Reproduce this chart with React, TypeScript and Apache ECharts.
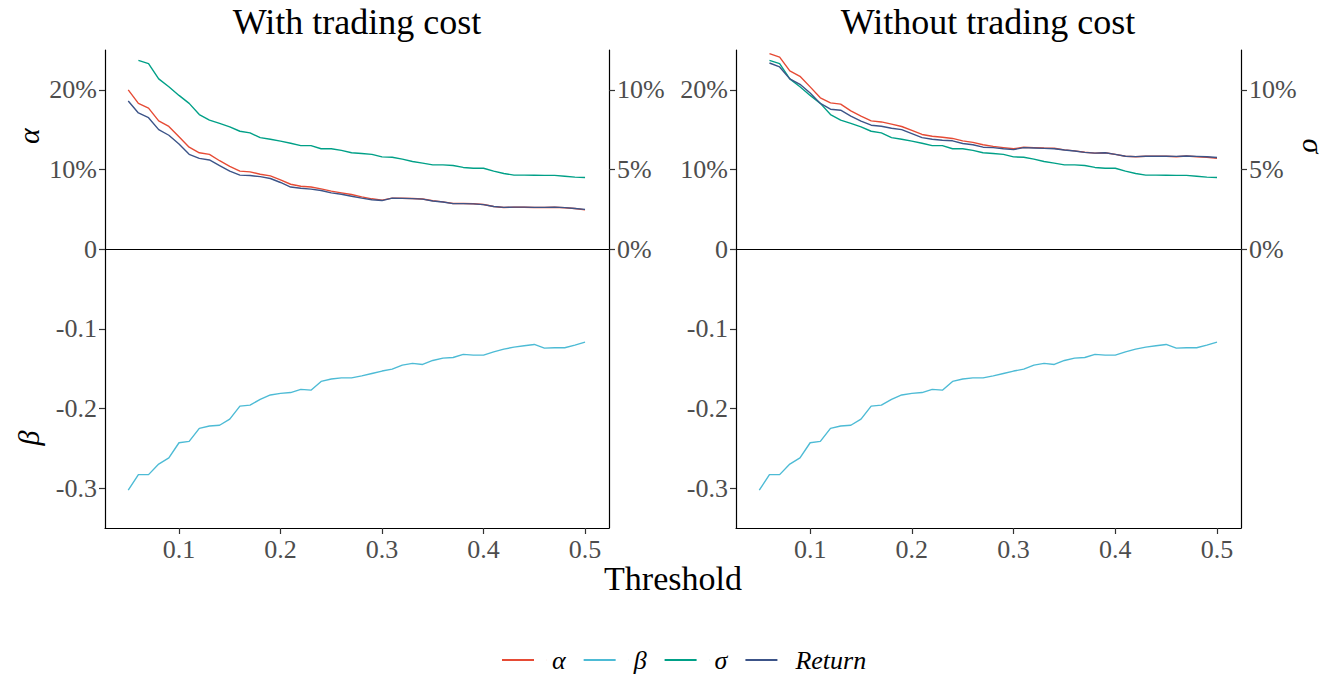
import { useEffect, useRef } from 'react';
import * as echarts from 'echarts';

const thresholds = [
  0.05, 0.06, 0.07, 0.08, 0.09, 0.1, 0.11, 0.12, 0.13, 0.14, 0.15, 0.16, 0.17, 0.18, 0.19, 0.2,
  0.21, 0.22, 0.23, 0.24, 0.25, 0.26, 0.27, 0.28, 0.29, 0.3, 0.31, 0.32, 0.33, 0.34, 0.35, 0.36,
  0.37, 0.38, 0.39, 0.4, 0.41, 0.42, 0.43, 0.44, 0.45, 0.46, 0.47, 0.48, 0.49, 0.5,
];

// With trading cost
const alphaCost = [
  0.2, 0.183, 0.177, 0.161, 0.154, 0.141, 0.128, 0.121, 0.119, 0.111, 0.104, 0.098, 0.097, 0.094,
  0.092, 0.087, 0.0815, 0.079, 0.078, 0.0757, 0.0728, 0.0707, 0.0686,
  0.0657, 0.0632, 0.0615, 0.064, 0.064, 0.0636, 0.063, 0.0607, 0.0594, 0.0573, 0.0573, 0.057,
  0.056, 0.0535, 0.0523, 0.0527, 0.0527, 0.0523, 0.0523, 0.0527, 0.052, 0.051, 0.0493,
];
const returnCost = [
  0.186, 0.171, 0.165, 0.15, 0.143, 0.132, 0.119, 0.114, 0.112, 0.105, 0.098, 0.093, 0.0925, 0.091,
  0.0887, 0.0837, 0.078, 0.0765, 0.0753, 0.0736, 0.0707, 0.069, 0.0665,
  0.064, 0.062, 0.061, 0.064, 0.0638, 0.0634, 0.0628, 0.0605, 0.0592, 0.0572, 0.0572, 0.0569,
  0.0559, 0.0535, 0.0524, 0.0528, 0.0528, 0.0525, 0.0524, 0.0528, 0.0521, 0.0511, 0.05,
];

// Without trading cost
const alphaNoCost = [
  null, 0.2455, 0.241, 0.2237, 0.217, 0.2037, 0.19, 0.1836, 0.182, 0.1735, 0.167, 0.161, 0.1597,
  0.157, 0.154, 0.149, 0.144, 0.1418, 0.1405, 0.139, 0.136, 0.134, 0.131,
  0.129, 0.1275, 0.126, 0.128, 0.1275, 0.127, 0.1267, 0.1246, 0.1234, 0.1217, 0.1205, 0.121,
  0.119, 0.1167, 0.116, 0.1167, 0.1167, 0.1167, 0.116, 0.117, 0.116, 0.1154, 0.1142,
];
const returnNoCost = [
  null, 0.2337, 0.2287, 0.2137, 0.207, 0.196, 0.183, 0.1757, 0.1744, 0.167, 0.1606, 0.1556, 0.1543,
  0.1518, 0.15, 0.145, 0.14, 0.138, 0.1368, 0.136, 0.1326, 0.131, 0.128,
  0.1275, 0.126, 0.125, 0.1275, 0.127, 0.1265, 0.126, 0.1245, 0.1232, 0.1215, 0.1205, 0.121,
  0.119, 0.1167, 0.1162, 0.1167, 0.1167, 0.1167, 0.1165, 0.117, 0.1165, 0.116, 0.115,
];

// Shared by both panels
const sigma = [
  null, 0.1185, 0.1165, 0.1069, 0.1019, 0.0965, 0.0915, 0.0845, 0.081, 0.0789, 0.0768, 0.074,
  0.073, 0.07, 0.069, 0.0678, 0.0665, 0.065, 0.065, 0.063, 0.063, 0.062, 0.0605,
  0.06, 0.0595, 0.0579, 0.0577, 0.0565, 0.055, 0.054, 0.0529, 0.0529, 0.0525, 0.0513, 0.0508,
  0.0508, 0.049, 0.0475, 0.0465, 0.0465, 0.0464, 0.0463, 0.0463, 0.0458, 0.0452, 0.045,
];
const beta = [
  -0.3024, -0.283, -0.283, -0.2698, -0.262, -0.243, -0.2413, -0.225, -0.222, -0.221, -0.2133,
  -0.197, -0.1957, -0.1886, -0.183, -0.181, -0.18, -0.176, -0.177, -0.166, -0.163, -0.1615, -0.1615,
  -0.159, -0.156, -0.153, -0.1506, -0.1455, -0.1434, -0.1447, -0.1397, -0.1368, -0.136, -0.132,
  -0.133, -0.133, -0.129, -0.1255, -0.123, -0.1213, -0.1196, -0.1242, -0.1238, -0.1238, -0.1205,
  -0.1167,
];

const panelTitles = ['With trading cost', 'Without trading cost'];
const legendNames = ['α', 'β', 'σ', 'Return'];
const colors = { alpha: '#E64B35', beta: '#4DBBD5', sigma: '#00A087', ret: '#3C5488' };
const xTicks = [0.1, 0.2, 0.3, 0.4, 0.5];
const leftTicks = [-0.3, -0.2, -0.1, 0, 0.1, 0.2];
const rightTicks = [0, 0.05, 0.1];

const FONT = '"Liberation Serif", "DejaVu Serif", serif';

const pairs = (vals: (number | null)[]) =>
  thresholds.map((t, i) => [t, vals[i]]).filter((p) => p[1] !== null);

export default function App() {
  const ref = useRef<HTMLDivElement>(null);
  useEffect(() => {
    if (!ref.current) return;
    const chart = echarts.init(ref.current, null, { renderer: 'svg' });

    const grids = [
      { left: 105, top: 50, width: 504, height: 478 },
      { left: 736, top: 50, width: 505, height: 478 },
    ];

    const xAxes = grids.map((_, g) => ({
      type: 'value',
      gridIndex: g,
      min: 0.0271,
      max: 0.5236,
      axisLine: { show: true, onZero: false, lineStyle: { color: '#000', width: 1.2 } },
      axisTick: { show: true, length: 6, customValues: xTicks, lineStyle: { color: '#333', width: 1.2 } },
      axisLabel: {
        customValues: xTicks,
        formatter: (v: number) => v.toFixed(1),
        color: '#4D4D4D',
        fontSize: 26,
        fontFamily: FONT,
        margin: 8,
      },
      splitLine: { show: false },
    }));

    const yAxes: any[] = [];
    grids.forEach((_, g) => {
      yAxes.push({
        type: 'value',
        gridIndex: g,
        position: 'left',
        min: -0.35,
        max: 0.25,
        axisLine: { show: true, onZero: false, lineStyle: { color: '#000', width: 1.2 } },
        axisTick: { show: true, length: 6, customValues: leftTicks, lineStyle: { color: '#333', width: 1.2 } },
        axisLabel: {
          customValues: leftTicks,
          formatter: (v: number) =>
            Math.abs(v) < 1e-9 ? '0' : v > 0 ? `${Math.round(v * 100)}%` : v.toFixed(1),
          color: '#4D4D4D',
          fontSize: 26,
          fontFamily: FONT,
          margin: 8,
        },
        splitLine: { show: false },
      });
      yAxes.push({
        type: 'value',
        gridIndex: g,
        position: 'right',
        min: -0.175,
        max: 0.125,
        axisLine: { show: true, onZero: false, lineStyle: { color: '#000', width: 1.2 } },
        axisTick: { show: true, length: 6, customValues: rightTicks, lineStyle: { color: '#333', width: 1.2 } },
        axisLabel: {
          customValues: rightTicks,
          formatter: (v: number) => `${Math.round(v * 100)}%`,
          color: '#4D4D4D',
          fontSize: 26,
          fontFamily: FONT,
          margin: 8,
        },
        splitLine: { show: false },
      });
    });

    const panels = [
      { alpha: alphaCost, ret: returnCost },
      { alpha: alphaNoCost, ret: returnNoCost },
    ];

    const series: any[] = [];
    panels.forEach((p, g) => {
      const base = {
        type: 'line',
        xAxisIndex: g,
        showSymbol: false,
        symbol: 'none',
        silent: true,
      };
      series.push({
        ...base,
        name: 'α',
        yAxisIndex: g * 2,
        data: pairs(p.alpha),
        lineStyle: { color: colors.alpha, width: 1.4 },
        itemStyle: { color: colors.alpha },
        z: 4,
        markLine: {
          silent: true,
          symbol: 'none',
          label: { show: false },
          lineStyle: { color: '#000', width: 1.2, type: 'solid' },
          data: [{ yAxis: 0 }],
        },
      });
      series.push({
        ...base,
        name: 'β',
        yAxisIndex: g * 2,
        data: pairs(beta),
        lineStyle: { color: colors.beta, width: 1.4 },
        itemStyle: { color: colors.beta },
      });
      series.push({
        ...base,
        name: 'σ',
        yAxisIndex: g * 2 + 1,
        data: pairs(sigma),
        lineStyle: { color: colors.sigma, width: 1.4 },
        itemStyle: { color: colors.sigma },
      });
      series.push({
        ...base,
        name: 'Return',
        yAxisIndex: g * 2,
        data: pairs(p.ret),
        lineStyle: { color: colors.ret, width: 1.4 },
        itemStyle: { color: colors.ret },
        z: 5,
      });
    });

    const txt = (text: string, x: number, y: number, size: number, extra: any = {}, rotation = 0) => ({
      type: 'text',
      x,
      y,
      rotation,
      silent: true,
      style: {
        text,
        fontSize: size,
        fontFamily: FONT,
        fill: '#000',
        align: 'center',
        verticalAlign: 'middle',
        textAlign: 'center',
        textVerticalAlign: 'middle',
        ...extra,
      },
    });

    chart.setOption({
      animation: false,
      backgroundColor: '#fff',
      grid: grids,
      xAxis: xAxes,
      yAxis: yAxes,
      series,
      legend: {
        data: legendNames,
        left: 497,
        top: 642,
        icon: 'path://M0,0H32V2H0Z M44.95,0H45V2H44.95Z',
        itemWidth: 45,
        itemHeight: 2,
        itemGap: 18,
        selectedMode: false,
        textStyle: {
          fontFamily: FONT,
          fontStyle: 'italic',
          fontSize: 26,
          color: '#000',
        },
      },
      graphic: [
        txt(panelTitles[0], 357, 22, 36),
        txt(panelTitles[1], 988, 22, 36),
        txt('Threshold', 673, 578, 34),
        txt('α', 28, 136, 30, { fontStyle: 'italic' }, Math.PI / 2),
        txt('β', 28, 438, 30, { fontStyle: 'italic' }, Math.PI / 2),
        txt('σ', 1313, 146, 30, { fontStyle: 'italic' }, -Math.PI / 2),
      ],
    });

    return () => chart.dispose();
  }, []);

  return (
    <div
      ref={ref}
      style={{ position: 'absolute', left: 0, top: 0, width: 1335, height: 675 }}
    />
  );
}
